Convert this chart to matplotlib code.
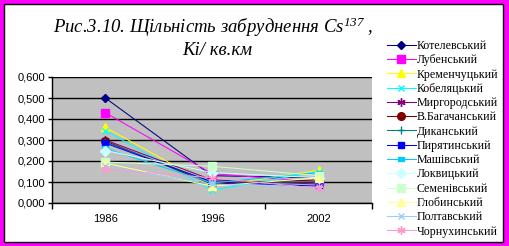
import matplotlib
matplotlib.use("Agg")
import matplotlib.pyplot as plt
from matplotlib.patches import Rectangle
from matplotlib.ticker import FuncFormatter, FixedLocator

years = ["1986", "1996", "2002"]
districts = ["Котелевський", "Лубенський", "Кременчуцький", "Кобеляцький",
             "Миргородський", "В.Багачанський", "Диканський", "Пирятинський",
             "Машівський", "Локвицький", "Семенівський", "Глобинський",
             "Полтавський", "Чорнухинський"]
kotelevskyi = [0.500, 0.130, 0.120]
lubenskyi = [0.430, 0.140, 0.100]
kremenchutskyi = [0.360, 0.080, 0.155]
kobeliatskyi = [0.345, 0.060, 0.150]
myrhorodskyi = [0.300, 0.110, 0.090]
vbahachanskyi = [0.295, 0.090, 0.110]
dykanskyi = [0.290, 0.100, 0.100]
pyriatynskyi = [0.285, 0.100, 0.080]
mashivskyi = [0.260, 0.095, 0.145]
lokhvytskyi = [0.250, 0.145, 0.120]
semenivskyi = [0.195, 0.175, 0.130]
hlobynskyi = [0.190, 0.080, 0.120]
poltavskyi = [0.175, 0.090, 0.075]
chornukhynskyi = [0.160, 0.120, 0.070]

series = [kotelevskyi, lubenskyi, kremenchutskyi, kobeliatskyi, myrhorodskyi,
          vbahachanskyi, dykanskyi, pyriatynskyi, mashivskyi, lokhvytskyi,
          semenivskyi, hlobynskyi, poltavskyi, chornukhynskyi]

colors = ["#000080", "#FF00FF", "#FFFF00", "#00FFFF", "#800080", "#800000",
          "#008080", "#0000FF", "#00CCFF", "#CCFFFF", "#CCFFCC", "#FFFF99",
          "#99CCFF", "#FF99CC"]
wide = [(-1, -0.45), (1, -0.45), (1, 0.45), (-1, 0.45), (-1, -0.45)]
markers = ["D", "s", "^", "x", (6, 2, 0), "o", "+", "s", wide, "D", "s", "^",
           "x", (6, 2, 0)]
msizes = [4.5, 6, 6, 5, 6, 5.5, 6, 4, 5, 5, 6, 6, 5, 6]

W, H = 509, 246
fig = plt.figure(figsize=(W / 100, H / 100), dpi=100, facecolor="#FF00FF")
fig.patches.append(Rectangle((4 / W, 4 / H), 499 / W, 238 / H,
                             transform=fig.transFigure, facecolor="white",
                             edgecolor="black", linewidth=1, zorder=-10))

ax = fig.add_axes([52 / W, 1 - 203 / H, 320 / W, 126 / H])
ax.set_zorder(1)
ax.set_facecolor("#C0C0C0")
x = list(range(len(years)))
for vals, name, c, m, ms in zip(series, districts, colors, markers, msizes):
    ax.plot(x, vals, color=c, marker=m, markersize=ms, linewidth=0.75,
            markerfacecolor=c, markeredgecolor=c, markeredgewidth=1.0,
            label=name, clip_on=False)

ax.set_xlim(-0.5, 2.5)
ax.set_ylim(0, 0.6)
ax.set_yticks([0, 0.1, 0.2, 0.3, 0.4, 0.5, 0.6])
ax.yaxis.set_major_formatter(FuncFormatter(lambda v, p: f"{v:.3f}".replace(".", ",")))
ax.yaxis.grid(True, color="black", linewidth=1)
ax.set_axisbelow(True)
ax.xaxis.set_major_locator(FixedLocator([-0.5, 0.5, 1.5, 2.5]))
ax.xaxis.set_major_formatter(FuncFormatter(lambda v, p: ""))
ax.xaxis.set_minor_locator(FixedLocator(x))
ax.set_xticklabels(years, minor=True)
ax.tick_params(axis="x", which="minor", length=0, pad=8, labelsize=8)
ax.tick_params(axis="x", which="major", length=4, width=1, direction="out")
ax.tick_params(axis="y", length=3, width=1, labelsize=8, pad=2)
for lab in ax.get_yticklabels() + ax.get_xticklabels(minor=True):
    lab.set_fontfamily("Liberation Sans")
for s in ["top", "right"]:
    ax.spines[s].set_visible(False)
ax.spines["left"].set_linewidth(1)
ax.spines["bottom"].set_linewidth(1)

plt.rcParams["mathtext.fontset"] = "custom"
plt.rcParams["mathtext.rm"] = "Liberation Serif:italic"
plt.rcParams["mathtext.it"] = "Liberation Serif:italic"
fig.text(213 / W, 1 - 33 / H, "Рис.3.10. Щільність забруднення Cs$^{137}$ ,",
         ha="center", va="baseline", fontsize=13.5, family="Liberation Serif",
         style="italic")
fig.text(217 / W, 1 - 55 / H, "Кі/ кв.км", ha="center", va="baseline",
         fontsize=13.5, family="Liberation Serif", style="italic")

leg = fig.legend(loc="upper left", bbox_to_anchor=(387 / W, 1 - 40 / H),
                 frameon=False, numpoints=1, handlelength=2.4,
                 handletextpad=0.08, labelspacing=0.19, borderaxespad=0,
                 borderpad=0, prop={"family": "Liberation Serif", "size": 8.6})

fig.savefig("out.png", dpi=100, facecolor=fig.get_facecolor())
